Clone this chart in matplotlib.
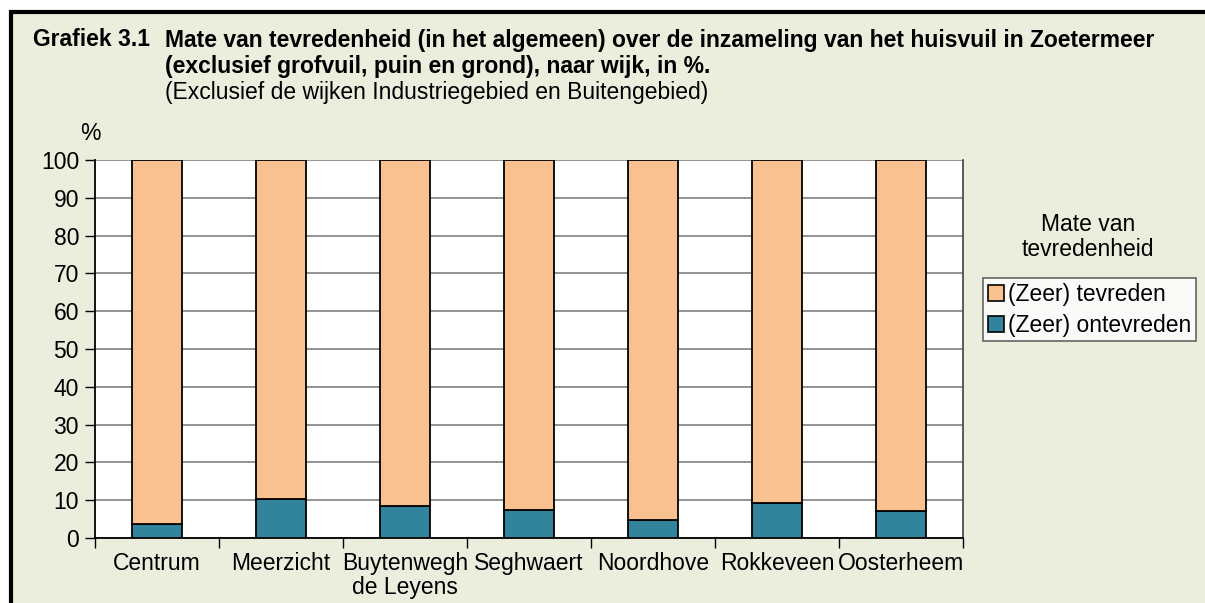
import matplotlib
matplotlib.use("Agg")
import matplotlib.pyplot as plt
from matplotlib.patches import Rectangle, Patch
import numpy as np

plt.rcParams['font.family'] = ['Liberation Sans', 'DejaVu Sans']

categories = ["Centrum", "Meerzicht", "Buytenwegh\nde Leyens", "Seghwaert",
              "Noordhove", "Rokkeveen", "Oosterheem"]
ontevreden = [3.8, 10.3, 8.5, 7.4, 4.8, 9.3, 7.2]
tevreden = [100 - v for v in ontevreden]
series_labels = ["(Zeer) tevreden", "(Zeer) ontevreden"]
yticks = list(range(0, 101, 10))

W, H = 1205, 603
BG = "#EBEEDD"
ORANGE = "#F9C090"
TEAL = "#31849B"
FS = 16.5

fig = plt.figure(figsize=(W / 100, H / 100), dpi=100)
fig.patch.set_facecolor("white")

# outer frame
fig.patches.append(Rectangle((11 / W, -0.05), 1.1, 1 - 12 / H + 0.05,
                             transform=fig.transFigure, facecolor=BG,
                             edgecolor="black", linewidth=3, zorder=-5))

ax = fig.add_axes([95 / W, (H - 538) / H, 868 / W, 378 / H])
ax.set_zorder(2)
ax.set_facecolor("white")
x = np.arange(len(categories))
ax.bar(x, ontevreden, width=0.4, color=TEAL, edgecolor="black", linewidth=1.3, zorder=3)
ax.bar(x, tevreden, width=0.4, bottom=ontevreden, color=ORANGE, edgecolor="black",
       linewidth=1.3, zorder=3)

ax.set_xlim(-0.5, len(categories) - 0.5)
ax.set_ylim(0, 100)
ax.set_yticks(yticks)
ax.set_yticklabels([str(t) for t in yticks], fontsize=FS)
ax.set_xticks(x)
ax.set_xticklabels(categories, fontsize=FS, linespacing=1.05)
ax.set_xticks(np.arange(-0.5, len(categories), 1), minor=True)
ax.tick_params(axis="x", which="major", length=0, pad=10)
ax.tick_params(axis="x", which="minor", length=7, width=1, direction="out", color="black")
ax.tick_params(axis="y", length=7, width=1, direction="out", pad=4.5)
ax.yaxis.grid(True, color="#808080", linewidth=1.2, zorder=0)
ax.set_axisbelow(True)
for s in ["left", "bottom"]:
    ax.spines[s].set_color("black")
    ax.spines[s].set_linewidth(1.3)
ax.spines["right"].set_color("#404040")
ax.spines["right"].set_linewidth(1.2)
ax.spines["top"].set_visible(False)

# titles
fig.text(33 / W, 1 - 40 / H, "Grafiek 3.1", fontsize=FS, fontweight="bold", va="center", ha="left")
fig.text(165 / W, 1 - 40 / H, "Mate van tevredenheid (in het algemeen) over de inzameling van het huisvuil in Zoetermeer",
         fontsize=FS, fontweight="bold", va="center", ha="left")
fig.text(165 / W, 1 - 66 / H, "(exclusief grofvuil, puin en grond), naar wijk, in %.",
         fontsize=FS, fontweight="bold", va="center", ha="left")
fig.text(165 / W, 1 - 93 / H, "(Exclusief de wijken Industriegebied en Buitengebied)",
         fontsize=FS, va="center", ha="left")
fig.text(90 / W, 1 - 133 / H, "%", fontsize=FS, va="center", ha="center")

# legend
fig.text(1088 / W, 1 - 237 / H, "Mate van\ntevredenheid", fontsize=FS, ha="center", va="center",
         linespacing=1.15)
handles = [Patch(facecolor=ORANGE, edgecolor="black", linewidth=1.2),
           Patch(facecolor=TEAL, edgecolor="black", linewidth=1.2)]
leg = fig.legend(handles, series_labels, loc="upper left",
                 bbox_to_anchor=(983 / W, 1 - 278 / H), fontsize=FS,
                 frameon=True, fancybox=False, handlelength=0.7, handleheight=0.7,
                 handletextpad=0.2, borderpad=0.2, borderaxespad=0, labelspacing=0.35)
leg.get_frame().set_edgecolor("#404040")
leg.get_frame().set_linewidth(1.2)
leg.get_frame().set_facecolor("white")

fig.savefig("out.png", dpi=100, facecolor=fig.get_facecolor())
